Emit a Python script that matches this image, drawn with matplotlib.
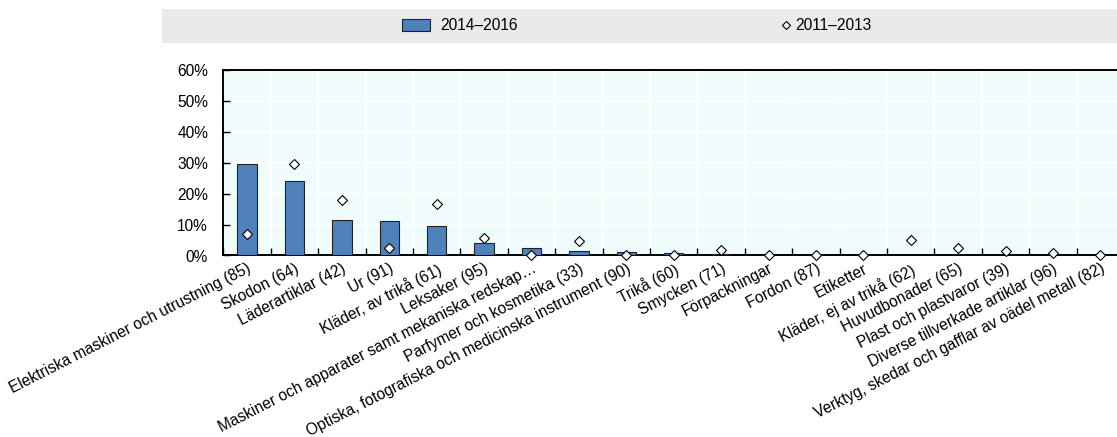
import matplotlib
matplotlib.use("Agg")
import matplotlib.pyplot as plt
import matplotlib.ticker as mticker
import matplotlib.transforms as mtransforms
from matplotlib.patches import Rectangle, Patch
from matplotlib.lines import Line2D
import numpy as np

plt.rcParams['font.family'] = ['Liberation Sans', 'DejaVu Sans']

categories = [
    "Elektriska maskiner och utrustning (85)", "Skodon (64)", "Läderartiklar (42)",
    "Ur (91)", "Kläder, av trikå (61)", "Leksaker (95)",
    "Maskiner och apparater samt mekaniska redskap…", "Parfymer och kosmetika (33)",
    "Optiska, fotografiska och medicinska instrument (90)", "Trikå (60)",
    "Smycken (71)", "Förpackningar", "Fordon (87)", "Etiketter",
    "Kläder, ej av trikå (62)", "Huvudbonader (65)", "Plast och plastvaror (39)",
    "Diverse tillverkade artiklar (96)",
    "Verktyg, skedar och gafflar av oädel metall (82)",
]
share_2014_2016 = [29.7, 24.0, 11.5, 11.1, 9.7, 4.1, 2.4, 1.6, 1.0, 0.65,
                   0.4, 0.3, 0.1, 0.1, 0.0, 0.0, 0.0, 0.0, 0.0]
share_2011_2013 = [7.0, 29.7, 18.1, 2.5, 16.5, 5.5, 0.3, 4.6, 0.3, 0.0,
                   1.8, 0.0, 0.0, 0.0, 4.9, 2.5, 1.6, 0.65, 0.3]
label_a = "2014–2016"
label_b = "2011–2013"

FS = 11.2
W, H = 1117, 437
fig = plt.figure(figsize=(W / 100, H / 100), dpi=100)

# grey legend band
fig.patches.append(Rectangle((161.7 / W, 1 - 42.7 / H), 1 - 161.7 / W, (42.7 - 9) / H,
                             transform=fig.transFigure, facecolor='#EAEAEA',
                             edgecolor='none', zorder=0))

left, right, top, bottom = 223.3, 1124.1, 70, 255.5
ax = fig.add_axes([left / W, 1 - bottom / H, (right - left) / W, (bottom - top) / H])
ax.set_facecolor('#F0FCFC')

x = np.arange(len(categories))
ax.bar(x, share_2014_2016, width=0.41, color='#4F81BD', edgecolor='#222222',
       linewidth=0.8, zorder=3)
ax.plot(x, share_2011_2013, linestyle='none', marker='D', markersize=5.6,
        markerfacecolor='white', markeredgecolor='black', markeredgewidth=0.8,
        zorder=5, clip_on=False)

ax.set_xlim(-0.5, len(categories) - 0.5)
ax.set_ylim(0, 60)
ax.yaxis.set_major_locator(mticker.MultipleLocator(10))
ax.yaxis.set_major_formatter(mticker.FuncFormatter(lambda v, p: '{:.0f}%'.format(v)))

ax.set_xticks(x)
ax.set_xticklabels(categories, rotation=27, ha='right', va='top',
                   rotation_mode='anchor', fontsize=FS)
shift = mtransforms.ScaledTranslation(5 / 100, 0, fig.dpi_scale_trans)
for lab in ax.get_xticklabels():
    lab.set_transform(lab.get_transform() + shift)
ax.set_xticks(np.arange(len(categories) + 1) - 0.5, minor=True)
ax.tick_params(axis='x', which='major', length=0, pad=4)
ax.tick_params(axis='x', which='minor', direction='in', length=5, width=1, color='black')
ax.tick_params(axis='y', direction='in', length=5, width=1, labelsize=FS, pad=11)

ax.grid(True, which='minor', axis='x', color='white', linewidth=1.2, zorder=1)
ax.grid(True, which='major', axis='y', color='white', linewidth=1.2, zorder=1)
ax.set_axisbelow(True)

for s in ['left', 'top', 'bottom']:
    ax.spines[s].set_linewidth(1.4)
    ax.spines[s].set_color('black')
ax.spines['right'].set_visible(False)

yc = 1 - 25.8 / H
leg1 = fig.legend(handles=[Patch(facecolor='#4F81BD', edgecolor='#222222', linewidth=0.8,
                                 label=label_a)],
                  loc='center left', bbox_to_anchor=(401.7 / W, yc), frameon=False,
                  borderpad=0, borderaxespad=0, handlelength=1.85, handleheight=0.8,
                  handletextpad=0.6, fontsize=FS)
leg2 = fig.legend(handles=[Line2D([], [], linestyle='none', marker='D', markersize=3.8,
                                  markerfacecolor='white', markeredgecolor='black',
                                  markeredgewidth=0.8, label=label_b)],
                  loc='center left', bbox_to_anchor=(781.5 / W, yc), frameon=False,
                  borderpad=0, borderaxespad=0, handlelength=0.6,
                  handletextpad=0.3, fontsize=FS)

fig.savefig("out.png", dpi=100)
